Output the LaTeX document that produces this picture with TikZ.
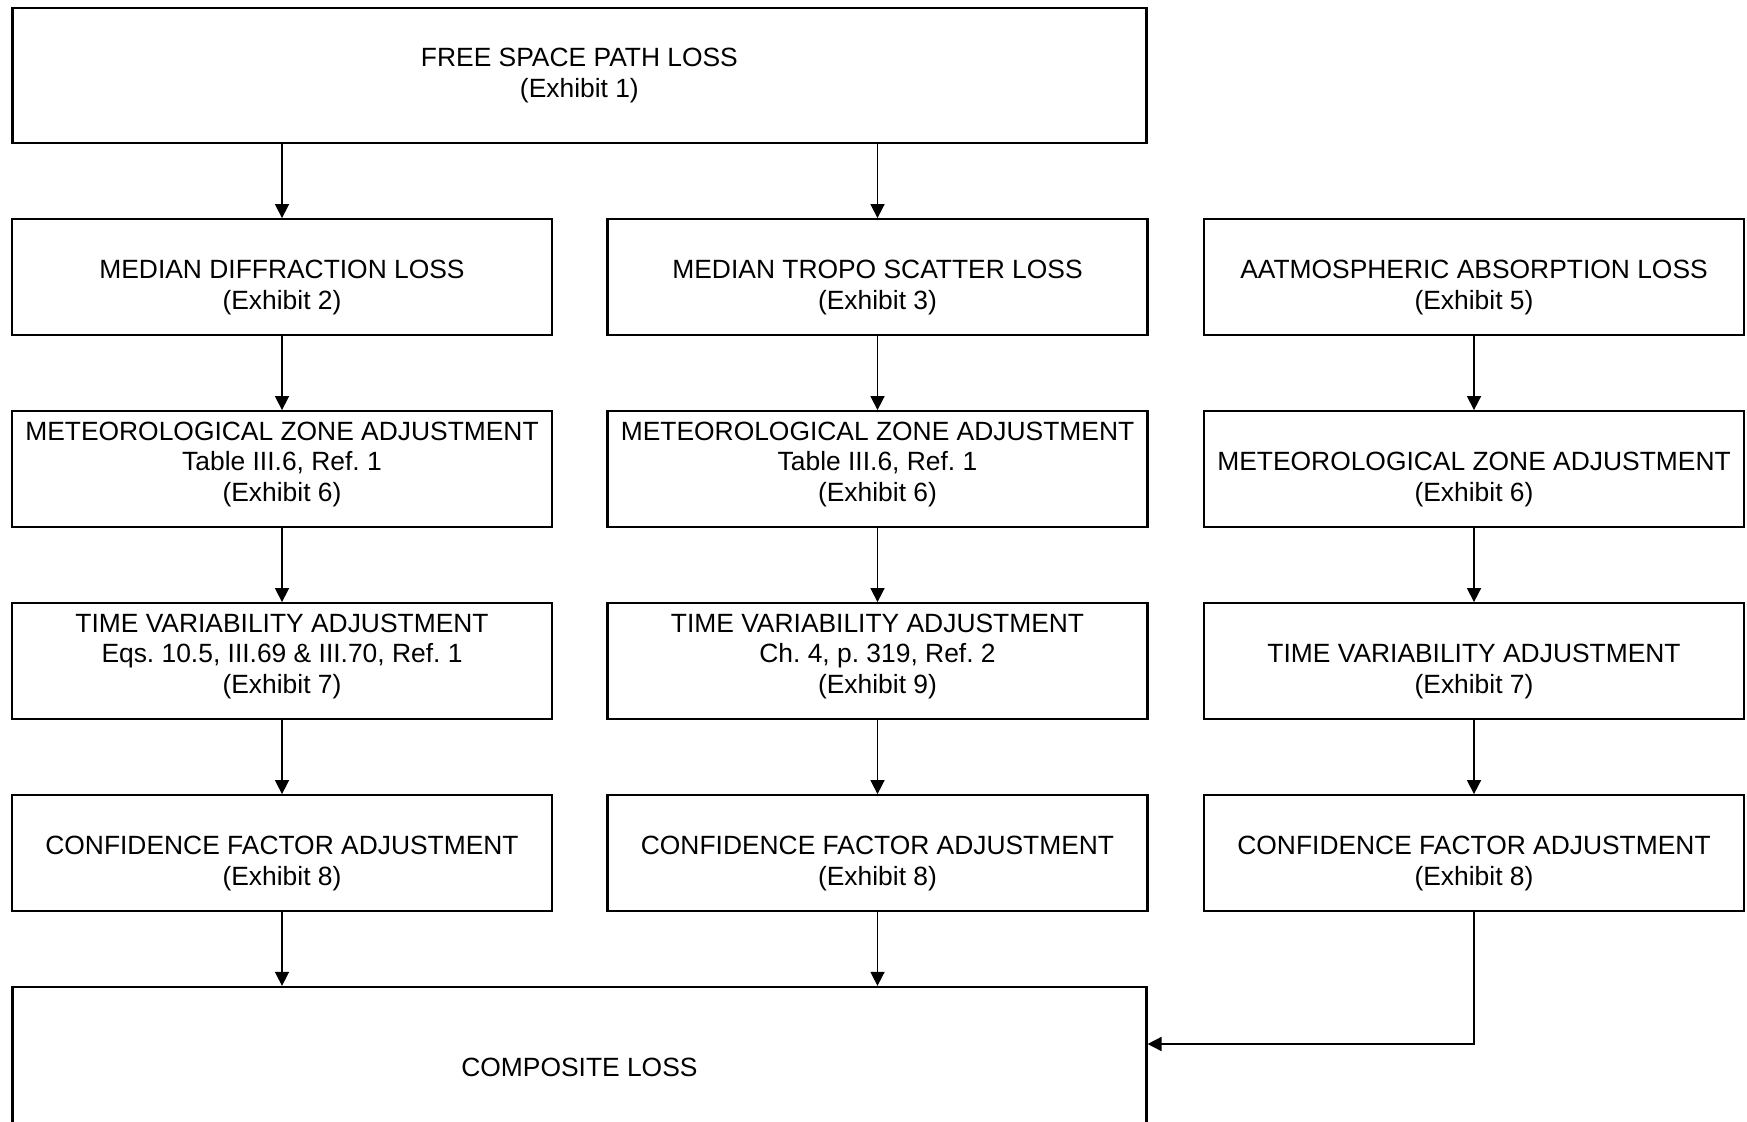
\documentclass[tikz,border=0pt]{standalone}
\usepackage{fontspec}
\setmainfont{Liberation Sans}
\usetikzlibrary{arrows.meta}
\frenchspacing

\tikzset{
  box/.style={draw, line width=2.3pt, minimum width=540pt, minimum height=115.5pt, inner sep=0pt},
  wide/.style={box, minimum width=1134pt},
  txt/.style={align=center, inner sep=0pt, font=\fontsize{26.4}{30.4}\selectfont},
  lo/.style={yshift=-10.5pt},
  hi/.style={yshift=4.5pt},
  arr/.style={line width=1.6pt, -{Triangle[length=14pt, width=14pt]}}
}

\begin{document}
\begin{tikzpicture}[x=1pt, y=-1pt]
    \useasboundingbox (0,0) rectangle (1747,1121);
    % boxes
    \node[wide, minimum height=135pt] (fsl) at (579.4,75.7) {};
    \node[box] (dif) at (282,277) {};
    \node[box] (tro) at (877.5,277) {};
    \node[box] (abs) at (1474,277) {};
    \node[box] (mz1) at (282,469) {};
    \node[box] (mz2) at (877.5,469) {};
    \node[box] (mz3) at (1474,469) {};
    \node[box] (tv1) at (282,661) {};
    \node[box] (tv2) at (877.5,661) {};
    \node[box] (tv3) at (1474,661) {};
    \node[box] (cf1) at (282,853) {};
    \node[box] (cf2) at (877.5,853) {};
    \node[box] (cf3) at (1474,853) {};
    \node[wide, minimum height=161pt] (cmp) at (579.4,1067.5) {};
    % texts
    \node[txt] (fsl-t) at (fsl) {FREE SPACE PATH LOSS\\(Exhibit 1)};
    \node[txt, lo] (dif-t) at (dif) {MEDIAN DIFFRACTION LOSS\\(Exhibit 2)};
    \node[txt, lo] (tro-t) at (tro) {MEDIAN TROPO SCATTER LOSS\\(Exhibit 3)};
    \node[txt, lo] (abs-t) at (abs) {AATMOSPHERIC ABSORPTION LOSS\\(Exhibit 5)};
    \node[txt, hi] (mz1-t) at (mz1) {METEOROLOGICAL ZONE ADJUSTMENT\\Table III.6, Ref. 1\\(Exhibit 6)};
    \node[txt, hi] (mz2-t) at (mz2) {METEOROLOGICAL ZONE ADJUSTMENT\\Table III.6, Ref. 1\\(Exhibit 6)};
    \node[txt, lo] (mz3-t) at (mz3) {METEOROLOGICAL ZONE ADJUSTMENT\\(Exhibit 6)};
    \node[txt, hi] (tv1-t) at (tv1) {TIME VARIABILITY ADJUSTMENT\\Eqs. 10.5, III.69 \& III.70, Ref. 1\\(Exhibit 7)};
    \node[txt, hi] (tv2-t) at (tv2) {TIME VARIABILITY ADJUSTMENT\\Ch. 4, p. 319, Ref. 2\\(Exhibit 9)};
    \node[txt, lo] (tv3-t) at (tv3) {TIME VARIABILITY ADJUSTMENT\\(Exhibit 7)};
    \node[txt, lo] (cf1-t) at (cf1) {CONFIDENCE FACTOR ADJUSTMENT\\(Exhibit 8)};
    \node[txt, lo] (cf2-t) at (cf2) {CONFIDENCE FACTOR ADJUSTMENT\\(Exhibit 8)};
    \node[txt, lo] (cf3-t) at (cf3) {CONFIDENCE FACTOR ADJUSTMENT\\(Exhibit 8)};
    \node[txt] (cmp-t) at (cmp) {COMPOSITE LOSS};
    % arrows
    \draw[arr] (fsl.south -| dif) -- (dif);
    \draw[arr] (fsl.south -| tro) -- (tro);
    \draw[arr] (dif) -- (mz1);
    \draw[arr] (tro) -- (mz2);
    \draw[arr] (abs) -- (mz3);
    \draw[arr] (mz1) -- (tv1);
    \draw[arr] (mz2) -- (tv2);
    \draw[arr] (mz3) -- (tv3);
    \draw[arr] (tv1) -- (cf1);
    \draw[arr] (tv2) -- (cf2);
    \draw[arr] (tv3) -- (cf3);
    \draw[arr] (cf1) -- (cf1 |- cmp.north);
    \draw[arr] (cf2) -- (cf2 |- cmp.north);
    \draw[arr] (cf3) |- ([yshift=23.5pt]cmp.east);
\end{tikzpicture}
\end{document}
